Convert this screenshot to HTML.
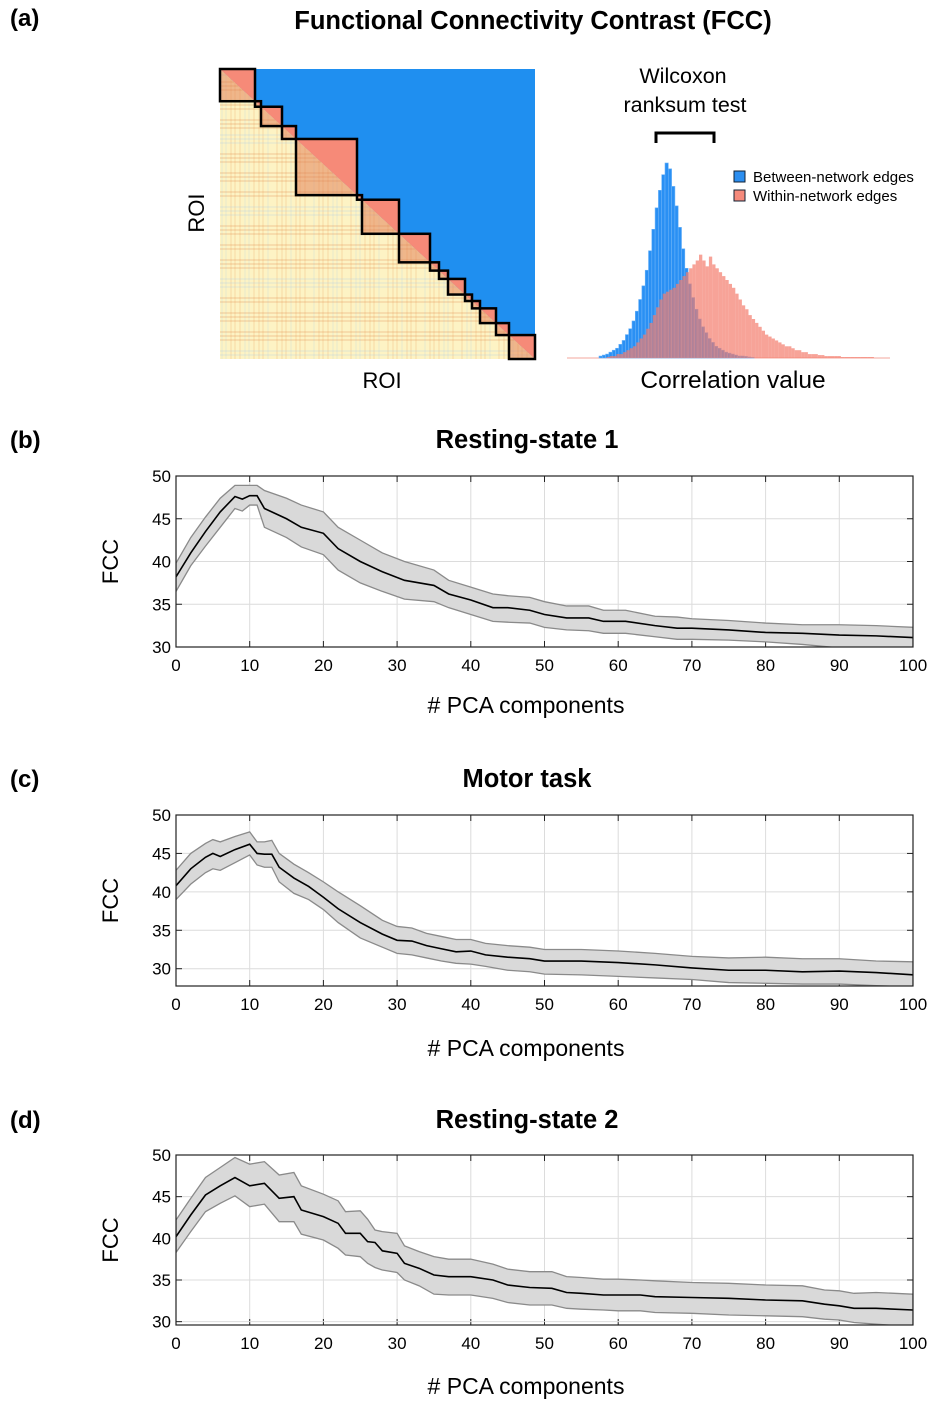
<!DOCTYPE html>
<html><head><meta charset="utf-8">
<style>
body{margin:0;background:#fff;}
svg text{font-family:"Liberation Sans",sans-serif;}
</style></head>
<body>
<svg id="fig" width="935" height="1407" viewBox="0 0 935 1407" xmlns="http://www.w3.org/2000/svg">
<rect width="935" height="1407" fill="#fff"/>
<text x="10" y="26" font-size="24" font-weight="bold">(a)</text>
<text x="533" y="29" font-size="25.5" font-weight="bold" text-anchor="middle">Functional Connectivity Contrast (FCC)</text>
<g id="matrix"></g>
<text transform="translate(204,213) rotate(-90)" font-size="22" text-anchor="middle">ROI</text>
<text x="382" y="388" font-size="22" text-anchor="middle">ROI</text>
<g id="hist"></g>
<text x="683" y="83" font-size="21.5" text-anchor="middle">Wilcoxon</text>
<text x="685" y="112" font-size="21.5" text-anchor="middle">ranksum test</text>
<path d="M656,143 V133 H714 V143" fill="none" stroke="#000" stroke-width="3"/>
<rect x="734" y="171" width="11" height="11" fill="#2b8ef0" stroke="#123" stroke-width="1"/>
<text x="753" y="182" font-size="15">Between-network edges</text>
<rect x="734" y="190" width="11" height="11" fill="#f58a7c" stroke="#123" stroke-width="1"/>
<text x="753" y="201" font-size="15">Within-network edges</text>
<text x="733" y="388" font-size="24.5" text-anchor="middle">Correlation value</text>
<g id="charts"></g>
</svg>
<script>
const NS="http://www.w3.org/2000/svg";
function mk(tag,attrs,parent){const e=document.createElementNS(NS,tag);for(const k in attrs)e.setAttribute(k,attrs[k]);parent.appendChild(e);return e;}

// ---- matrix ----
const blockEdges=[220,255,261,282,296,357,362,399,430,439,448,465,472,480,496,509,535];
(function(){
  const g=document.getElementById('matrix');
  const x0=220,x1=535,y0=69,y1=359;
  const fy=x=>y0+(x-x0)/(x1-x0)*(y1-y0);
  const up=mk('polygon',{points:`${x0},${y0} ${x1},${y0} ${x1},${y1}`,fill:'#1f8ff0'},g);
  
  const lo=mk('polygon',{points:`${x0},${y0} ${x1},${y1} ${x0},${y1}`,fill:'#fdf3c4'},g);
  
  for(let i=0;i<60;i++){
    const x=x0+2+((i*37)%310);
    const top=fy(x);
    if(top>y1-2)continue;
    const c=(i%3===0)?'#a9cbea':'#e8924a';
    const l=mk('line',{x1:x,y1:top,x2:x,y2:y1,stroke:c,'stroke-width':1,opacity:0.25},g);
    
  }
  for(let i=0;i<45;i++){
    const y=y0+6+((i*53)%284);
    const xr=x0+(y-y0)/(y1-y0)*(x1-x0);
    const c=(i%4===0)?'#a9cbea':'#e07a3a';
    const l=mk('line',{x1:x0,y1:y,x2:xr,y2:y,stroke:c,'stroke-width':1.2,opacity:0.28},g);
    
  }
  for(let i=0;i<blockEdges.length-1;i++){
    const a=blockEdges[i],b=blockEdges[i+1];
    const ya=fy(a),yb=fy(b);
    const t=mk('polygon',{points:`${a},${ya} ${b},${ya} ${b},${yb}`,fill:'#f68a78'},g);
    
    const t2=mk('polygon',{points:`${a},${ya} ${b},${yb} ${a},${yb}`,fill:'#e27a50',opacity:0.5},g);
    
    const r=mk('rect',{x:a,y:ya,width:b-a,height:yb-ya,fill:'none',stroke:'#000','stroke-width':2.5},g);
    
  }
})();

// ---- histogram ----
const histBlue=[1,1.5,2,3,4,5,7,9,12,15,19,24,30,37,45,55,66,77,86,94,100,97,88,78,67,56,46,38,31,25,20,16,13,10,8,6,5,4,3,2.5,2,1.5,1,1,0.8,0.5,0.3];
const histRed=[0.5,1,1,2,2,3,4,5,6,8,10,12,15,18,22,26,30,33,34,35,36,38,40,42,44,46,48,50,53,50,47,52,48,46,44,42,40,38,36,33,30,27,25,22,20,18,16,14,12,11,10,9,8,7,6,6,5,4,4,3,3,2,2,2,1.5,1.5,1,1,1,1,1,0.5,0.5,0.5,0.5,0.5,0.5,0.5,0.5,0.5,0.5];
const histBlueStart=0.097, histRedStart=0.12, histBin=0.01;
(function(){
  const g=document.getElementById('hist');
  const base=358, X=v=>567+(v)*330, H=c=>c/100*195;
  const bw=histBin*330;
  mk('line',{x1:567,y1:base,x2:890,y2:base,stroke:'#f3a79c','stroke-width':1},g);
  histBlue.forEach((c,i)=>{
    const r=mk('rect',{x:X(histBlueStart+i*histBin),y:base-H(c),width:bw,height:H(c),fill:'#2a90f4',stroke:'#6ab2f8','stroke-width':0.6},g);
    
  });
  histRed.forEach((c,i)=>{
    const r=mk('rect',{x:X(histRedStart+i*histBin),y:base-H(c),width:bw,height:H(c),fill:'#f47c6c',opacity:0.7},g);
    
  });
})();

// ---- line charts ----
const bX=[0,2,4,6,8,9,10,11,12,15,17,20,22,25,28,31,35,37,40,43,45,48,50,53,56,58,61,65,68,70,75,80,85,90,95,100];
const bMean=[38.2,41,43.5,45.8,47.6,47.3,47.7,47.7,46.2,45,44,43.3,41.5,40,38.8,37.8,37.2,36.2,35.5,34.6,34.6,34.3,33.8,33.4,33.4,33,33,32.5,32.2,32.2,32,31.7,31.6,31.4,31.3,31.1];
const bUpper=[39.8,42.8,45.2,47.4,48.9,48.9,48.9,48.9,48.3,47.4,46.6,45.8,44,42.5,41,40,39,37.8,37,36.2,36,35.8,35.3,34.8,34.8,34.3,34.3,33.6,33.5,33.3,33.1,32.8,32.6,32.6,32.5,32.3];
const bLower=[36.5,39.5,41.8,44,46.2,45.9,46.6,46.6,44,42.8,41.7,40.8,39,37.5,36.5,35.6,35.3,34.6,33.8,33,32.9,32.8,32.3,32,31.9,31.6,31.6,31.2,30.9,30.9,30.8,30.6,30.3,29.9,29.8,29.6];

const cX=[0,2,4,5,6,8,10,11,12,13,14,16,18,20,22,25,28,30,32,34,36,38,40,42,45,48,50,55,60,65,70,75,80,85,90,95,100];
const cMean=[40.8,43,44.5,45,44.6,45.5,46.2,45,44.9,44.9,43.2,41.8,40.7,39.3,37.8,36,34.5,33.7,33.6,33,32.6,32.2,32.3,31.8,31.5,31.3,31,31,30.8,30.5,30.1,29.8,29.8,29.6,29.7,29.5,29.2];
const cUpper=[42.8,45,46.3,46.8,46.5,47.2,47.8,46.5,46.5,46.7,45,43.6,42.5,41.3,40,38.2,36.3,35.5,35.3,34.6,34.2,33.8,33.8,33.3,33,32.8,32.5,32.5,32.3,32,31.6,31.4,31.5,31.3,31.3,31,30.9];
const cLower=[39,41,42.5,43,42.8,43.8,44.8,43.5,43.2,43.2,41.3,39.8,39,37.7,36,34,32.8,32,31.8,31.4,31,30.7,30.6,30.3,29.8,29.6,29.3,29.2,29,28.8,28.6,28.2,28.1,28,28,27.8,27.6];

const dX=[0,2,4,6,8,10,12,14,16,17,20,22,23,25,26,27,28,30,31,33,35,37,40,43,45,48,51,53,55,58,60,63,65,70,75,80,85,88,90,92,95,100];
const dMean=[40.2,42.8,45.2,46.3,47.3,46.3,46.6,44.8,45,43.4,42.6,41.8,40.6,40.6,39.6,39.5,38.5,38.2,37,36.4,35.6,35.4,35.4,35,34.4,34.1,34,33.5,33.4,33.2,33.2,33.2,33,32.9,32.8,32.6,32.5,32.1,31.9,31.6,31.6,31.4];
const dUpper=[42.2,44.8,47.3,48.5,49.7,48.9,49.2,47.6,47.9,46.3,45.3,44.5,43.2,43.3,42.3,41,40.8,40.6,39.1,38.4,37.8,37.5,37.5,36.9,36.3,36,36,35.4,35.3,35.1,35.1,35,34.9,34.7,34.6,34.4,34.3,33.8,33.7,33.4,33.5,33.3];
const dLower=[38.3,40.8,43.2,44.2,45.1,43.8,44.1,42,42,40.5,39.8,38.8,38,37.8,37,36.5,36.2,35.9,35,34.3,33.3,33.2,33.2,32.8,32.3,32,32,31.6,31.5,31.4,31.3,31.3,31.1,31,30.8,30.7,30.6,30.3,30.2,29.9,29.7,29.4];

const xTicks=[0,10,20,30,40,50,60,70,80,90,100];
const yTicks=[30,35,40,45,50];

function chart(o){
  const root=document.getElementById('charts');
  const g=mk('g',{},root);
  
  
  const L=176,R=913,T=o.top,B=o.bottom;
  const sx=v=>L+v/100*(R-L), sy=v=>B-(v-o.ymin)/(o.ymax-o.ymin)*(B-T);
  const lab=mk('text',{x:10,y:o.titleY,'font-size':24,'font-weight':'bold'},g);lab.textContent=o.label;
  
  const t=mk('text',{x:527,y:o.titleY,'font-size':25.5,'font-weight':'bold','text-anchor':'middle'},g);t.textContent=o.title;
  
  mk('rect',{x:L,y:T,width:R-L,height:B-T,fill:'#fff'},g);
  xTicks.forEach(v=>{
    const gl=mk('line',{x1:sx(v),y1:T,x2:sx(v),y2:B,stroke:'#dcdcdc','stroke-width':1},g);
    
    const tl=mk('text',{x:sx(v),y:B+24,'font-size':17,'text-anchor':'middle'},g);tl.textContent=v;
    
    mk('line',{x1:sx(v),y1:B,x2:sx(v),y2:B-6,stroke:'#222'},g);
    mk('line',{x1:sx(v),y1:T,x2:sx(v),y2:T+6,stroke:'#222'},g);
  });
  yTicks.forEach(v=>{
    const gl=mk('line',{x1:L,y1:sy(v),x2:R,y2:sy(v),stroke:'#dcdcdc','stroke-width':1},g);
    
    const tl=mk('text',{x:L-5,y:sy(v)+6,'font-size':17,'text-anchor':'end'},g);tl.textContent=v;
    
    mk('line',{x1:L,y1:sy(v),x2:L+6,y2:sy(v),stroke:'#222'},g);
    mk('line',{x1:R,y1:sy(v),x2:R-6,y2:sy(v),stroke:'#222'},g);
  });
  const cp='clip-'+o.name;
  const cl=mk('clipPath',{id:cp},g);mk('rect',{x:L,y:T,width:R-L,height:B-T},cl);
  const up=o.x.map((x,i)=>sx(x)+','+sy(o.upper[i]));
  const lo=o.x.map((x,i)=>sx(x)+','+sy(o.lower[i])).reverse();
  const band=mk('polygon',{points:up.concat(lo).join(' '),fill:'#d9d9d9',stroke:'#8a8a8a','stroke-width':1.3,'clip-path':`url(#${cp})`},g);
  
  const line=mk('polyline',{points:o.x.map((x,i)=>sx(x)+','+sy(o.mean[i])).join(' '),fill:'none',stroke:'#000','stroke-width':1.6,'clip-path':`url(#${cp})`},g);
  
  const ax=mk('rect',{x:L,y:T,width:R-L,height:B-T,fill:'none',stroke:'#222','stroke-width':1.2},g);
  
  const yl=mk('text',{transform:`translate(118,${(T+B)/2}) rotate(-90)`,'font-size':22,'text-anchor':'middle'},g);yl.textContent='FCC';
  
  const xl=mk('text',{x:526,y:o.xlabY,'font-size':23,'text-anchor':'middle'},g);xl.textContent='# PCA components';
  
}
chart({name:'resting-state-1-chart',label:'(b)',title:'Resting-state 1',titleY:448,top:476,bottom:647,ymin:30,ymax:50,xlabY:713,x:bX,mean:bMean,upper:bUpper,lower:bLower});
chart({name:'motor-task-chart',label:'(c)',title:'Motor task',titleY:787,top:815,bottom:986,ymin:27.75,ymax:50,xlabY:1056,x:cX,mean:cMean,upper:cUpper,lower:cLower});
chart({name:'resting-state-2-chart',label:'(d)',title:'Resting-state 2',titleY:1128,top:1155,bottom:1325,ymin:29.6,ymax:50,xlabY:1394,x:dX,mean:dMean,upper:dUpper,lower:dLower});
</script>
</body></html>
